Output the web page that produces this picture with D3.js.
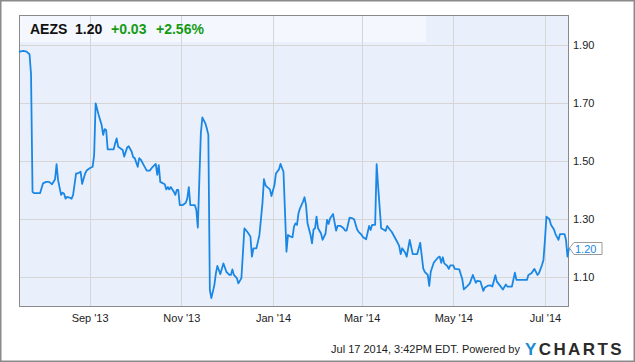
<!DOCTYPE html>
<html>
<head>
<meta charset="utf-8">
<script src="https://cdn.jsdelivr.net/npm/d3@7"></script>
<style>
    body { margin: 0; background: #fff; }
    svg { display: block; font-family: "Liberation Sans", Arial, sans-serif; }
</style>
</head>
<body>
<svg id="chart" width="635" height="362"></svg>
<script>
// AEZS daily close
var dates = [
    '2013-07-16','2013-07-17','2013-07-19','2013-07-21','2013-07-23','2013-07-24','2013-07-25','2013-07-26','2013-07-30',
    '2013-08-01','2013-08-03','2013-08-05','2013-08-07','2013-08-09','2013-08-10','2013-08-11','2013-08-13','2013-08-14',
    '2013-08-15','2013-08-16','2013-08-17','2013-08-19','2013-08-20','2013-08-21','2013-08-23','2013-08-24','2013-08-26',
    '2013-08-27','2013-08-29','2013-08-30',
    '2013-09-01','2013-09-03','2013-09-04','2013-09-05','2013-09-07','2013-09-09','2013-09-10','2013-09-11','2013-09-12',
    '2013-09-13','2013-09-17','2013-09-18','2013-09-19','2013-09-20','2013-09-23','2013-09-24','2013-09-26','2013-09-27',
    '2013-09-29','2013-09-30',
    '2013-10-01','2013-10-03','2013-10-04','2013-10-05','2013-10-07','2013-10-09','2013-10-11','2013-10-13','2013-10-15',
    '2013-10-16','2013-10-17','2013-10-18','2013-10-21','2013-10-22','2013-10-23','2013-10-24','2013-10-25','2013-10-27',
    '2013-10-28','2013-10-29','2013-10-30','2013-10-31',
    '2013-11-02','2013-11-04','2013-11-05','2013-11-06','2013-11-07','2013-11-10','2013-11-11','2013-11-12','2013-11-13',
    '2013-11-14','2013-11-15','2013-11-17','2013-11-18','2013-11-19','2013-11-20','2013-11-21','2013-11-23','2013-11-24',
    '2013-11-25','2013-11-27','2013-11-29',
    '2013-12-01','2013-12-03','2013-12-04','2013-12-05','2013-12-06','2013-12-08','2013-12-09','2013-12-11','2013-12-12',
    '2013-12-13','2013-12-15','2013-12-17','2013-12-18','2013-12-19','2013-12-21','2013-12-22','2013-12-23','2013-12-25',
    '2013-12-26','2013-12-27','2013-12-28','2013-12-30','2013-12-31',
    '2014-01-02','2014-01-03','2014-01-05','2014-01-06','2014-01-08','2014-01-10','2014-01-11','2014-01-12','2014-01-14',
    '2014-01-15','2014-01-16','2014-01-17','2014-01-18','2014-01-19','2014-01-21','2014-01-22','2014-01-23','2014-01-24',
    '2014-01-26','2014-01-27','2014-01-28','2014-01-29','2014-01-30','2014-01-31',
    '2014-02-02','2014-02-03','2014-02-05','2014-02-06','2014-02-07','2014-02-08','2014-02-10','2014-02-12','2014-02-13',
    '2014-02-15','2014-02-17','2014-02-18','2014-02-19','2014-02-21','2014-02-23','2014-02-24','2014-02-26','2014-02-27',
    '2014-03-01','2014-03-02','2014-03-04','2014-03-05','2014-03-06','2014-03-07','2014-03-08','2014-03-10','2014-03-11',
    '2014-03-12','2014-03-14','2014-03-16','2014-03-17','2014-03-18','2014-03-20','2014-03-21','2014-03-23','2014-03-25',
    '2014-03-26','2014-03-27','2014-03-28','2014-03-30','2014-03-31',
    '2014-04-02','2014-04-04','2014-04-07','2014-04-09','2014-04-11','2014-04-12','2014-04-14','2014-04-15','2014-04-16',
    '2014-04-18','2014-04-19','2014-04-21','2014-04-22','2014-04-23','2014-04-24','2014-04-25','2014-04-27','2014-04-28',
    '2014-04-29',
    '2014-05-01','2014-05-02','2014-05-05','2014-05-07','2014-05-08','2014-05-10','2014-05-12','2014-05-14','2014-05-16',
    '2014-05-17','2014-05-19','2014-05-21','2014-05-22','2014-05-24','2014-05-26','2014-05-27','2014-05-29','2014-05-30',
    '2014-06-01','2014-06-03','2014-06-05','2014-06-06','2014-06-09','2014-06-11','2014-06-12','2014-06-19','2014-06-20',
    '2014-06-22','2014-06-24','2014-06-26','2014-06-27','2014-06-29','2014-06-30',
    '2014-07-01','2014-07-02','2014-07-04','2014-07-05','2014-07-07','2014-07-08','2014-07-10','2014-07-11','2014-07-14',
    '2014-07-15','2014-07-16','2014-07-17'
];

var prices = [
    1.875,1.878,1.880,1.877,1.868,1.800,1.394,1.389,1.389,
    1.423,1.428,1.428,1.420,1.437,1.489,1.434,1.383,1.391,
    1.387,1.370,1.376,1.373,1.370,1.383,1.457,1.457,1.463,
    1.421,1.457,1.467,
    1.475,1.480,1.520,1.699,1.659,1.624,1.590,1.610,1.607,
    1.540,1.540,1.561,1.578,1.549,1.538,1.515,1.547,1.551,
    1.532,1.513,
    1.510,1.480,1.510,1.505,1.486,1.467,1.467,1.480,1.490,
    1.452,1.486,1.428,1.420,1.402,1.410,1.402,1.410,1.394,
    1.383,1.400,1.400,1.348,
    1.348,1.356,1.371,1.410,1.348,1.348,1.331,1.270,1.434,
    1.595,1.650,1.630,1.612,1.590,1.055,1.027,1.072,1.112,
    1.138,1.110,1.147,
    1.118,1.107,1.107,1.126,1.107,1.096,1.078,1.096,1.182,
    1.268,1.255,1.240,1.170,1.199,1.199,1.222,1.245,1.354,
    1.437,1.417,1.411,1.402,1.379,
    1.417,1.457,1.471,1.490,1.463,1.187,1.245,1.241,1.237,
    1.274,1.285,1.280,1.320,1.337,1.360,1.375,1.348,1.285,
    1.245,1.216,1.264,1.268,1.308,1.268,
    1.250,1.228,1.250,1.297,1.283,1.302,1.317,1.260,1.276,
    1.276,1.268,1.260,1.260,1.305,1.302,1.299,1.264,1.256,
    1.245,1.237,1.230,1.253,1.276,1.262,1.280,1.280,1.489,
    1.411,1.268,1.262,1.259,1.276,1.262,1.256,1.237,1.218,
    1.207,1.179,1.199,1.184,1.170,
    1.228,1.179,1.179,1.218,1.130,1.118,1.107,1.069,1.118,
    1.149,1.156,1.168,1.170,1.149,1.168,1.147,1.138,1.128,
    1.140,
    1.140,1.128,1.126,1.092,1.057,1.067,1.078,1.107,1.080,
    1.087,1.085,1.052,1.064,1.070,1.071,1.067,1.106,1.084,
    1.071,1.057,1.074,1.067,1.067,1.115,1.090,1.090,1.107,
    1.113,1.128,1.107,1.113,1.141,1.159,
    1.228,1.308,1.299,1.280,1.264,1.248,1.228,1.248,1.248,
    1.228,1.170,1.200
];

var monthTicks = ['2013-09-01','2013-11-01','2014-01-01','2014-03-01','2014-05-01','2014-07-01'];
var monthLabels = ["Sep '13","Nov '13","Jan '14","Mar '14","May '14","Jul '14"];
var priceTicks = [1.1, 1.3, 1.5, 1.7, 1.9];

var ticker = 'AEZS';
var lastPrice = '1.20';
var change = '+0.03';
var changePct = '+2.56%';
var stamp = 'Jul 17 2014, 3:42PM EDT. Powered by';

var parse = d3.timeParse('%Y-%m-%d');

var plot = { left: 19, top: 15, right: 569, bottom: 307 };

var x = d3.scaleTime()
    .domain([parse('2013-07-16'), parse('2014-07-17')])
    .range([plot.left, plot.right]);

var y = d3.scaleLinear()
    .domain([1.0, 2.0])
    .range([306, 16]);

var svg = d3.select('#chart');

// outer frame
svg.append('rect')
    .attr('x', 0.75).attr('y', 0.75)
    .attr('width', 633.5).attr('height', 360.5)
    .attr('fill', '#fff')
    .attr('stroke', '#8a8a8a')
    .attr('stroke-width', 1.5);

// plot background
svg.append('rect')
    .attr('x', plot.left).attr('y', plot.top)
    .attr('width', plot.right - plot.left)
    .attr('height', plot.bottom - plot.top)
    .attr('fill', '#eaf0fb');

// lighter strip behind the quote
svg.append('rect')
    .attr('x', plot.left).attr('y', plot.top)
    .attr('width', 407).attr('height', 27)
    .attr('fill', '#f4f7fd');

var grid = svg.append('g').attr('stroke', '#d6d6d6').attr('stroke-width', 1);

grid.selectAll('.vgrid')
    .data(monthTicks)
    .enter().append('line')
    .attr('class', 'vgrid')
    .attr('x1', function(d) { return Math.round(x(parse(d))) + 0.5; })
    .attr('x2', function(d) { return Math.round(x(parse(d))) + 0.5; })
    .attr('y1', plot.top)
    .attr('y2', plot.bottom);

grid.selectAll('.hgrid')
    .data(priceTicks)
    .enter().append('line')
    .attr('class', 'hgrid')
    .attr('x1', plot.left)
    .attr('x2', plot.right)
    .attr('y1', function(d) { return Math.round(y(d)) + 0.5; })
    .attr('y2', function(d) { return Math.round(y(d)) + 0.5; });

// plot border
svg.append('rect')
    .attr('x', plot.left + 0.5).attr('y', plot.top + 0.5)
    .attr('width', plot.right - plot.left - 1)
    .attr('height', plot.bottom - plot.top - 1)
    .attr('fill', 'none')
    .attr('stroke', '#8a8a8a');

// price line
var series = dates.map(function(d, i) {
    return { date: parse(d), value: prices[i] };
});

var line = d3.line()
    .x(function(d) { return x(d.date); })
    .y(function(d) { return y(d.value); });

svg.append('path')
    .datum(series)
    .attr('d', line)
    .attr('fill', 'none')
    .attr('stroke', '#1a87e5')
    .attr('stroke-width', 1.8)
    .attr('stroke-linejoin', 'round');

// axes
var xAxis = d3.axisBottom(x)
    .tickValues(monthTicks.map(parse))
    .tickFormat(function(d, i) { return monthLabels[i]; })
    .tickSize(0)
    .tickPadding(7);

var gx = svg.append('g')
    .attr('transform', 'translate(0,' + plot.bottom + ')')
    .call(xAxis);
gx.select('.domain').remove();
gx.selectAll('text')
    .attr('font-family', '"Liberation Sans", Arial, sans-serif')
    .attr('font-size', 11)
    .attr('fill', '#222');

var yAxis = d3.axisRight(y)
    .tickValues(priceTicks)
    .tickFormat(d3.format('.2f'))
    .tickSize(0)
    .tickPadding(4);

var gy = svg.append('g')
    .attr('transform', 'translate(' + plot.right + ',0)')
    .call(yAxis);
gy.select('.domain').remove();
gy.selectAll('text')
    .attr('font-family', '"Liberation Sans", Arial, sans-serif')
    .attr('font-size', 11)
    .attr('fill', '#222');

// last value callout
var last = series[series.length - 1];
var lx = x(last.date), ly = y(last.value);
svg.append('path')
    .attr('d', 'M' + (lx + 0.5) + ',' + ly +
        'L' + (lx + 5) + ',' + (ly - 5.5) +
        'L' + (lx + 33) + ',' + (ly - 5.5) +
        'L' + (lx + 33) + ',' + (ly + 6.5) +
        'L' + (lx + 5) + ',' + (ly + 6.5) + 'Z')
    .attr('fill', '#fff')
    .attr('stroke', '#9a9a9a');
svg.append('text')
    .attr('x', lx + 6)
    .attr('y', ly + 4.5)
    .attr('font-size', 11)
    .attr('fill', '#1a87e5')
    .text(d3.format('.2f')(last.value));

// quote header
var header = svg.append('g').attr('font-weight', 'bold').attr('font-size', 14);
header.append('text').attr('x', 30).attr('y', 33.5).attr('fill', '#111').text(ticker);
header.append('text').attr('x', 75).attr('y', 33.5).attr('fill', '#111').text(lastPrice);
header.append('text').attr('x', 111).attr('y', 33.5).attr('fill', '#169b16').text(change);
header.append('text').attr('x', 156).attr('y', 33.5).attr('fill', '#169b16').text(changePct);

// footer
svg.append('text')
    .attr('x', 520)
    .attr('y', 353)
    .attr('text-anchor', 'end')
    .attr('font-size', 11)
    .attr('fill', '#222')
    .text(stamp);

var logo = svg.append('text')
    .attr('x', 525)
    .attr('y', 354.5)
    .attr('font-size', 17)
    .attr('font-weight', 'bold')
    .attr('letter-spacing', 2.4);
logo.append('tspan').attr('fill', '#1c8ad0').text('Y');
logo.append('tspan').attr('fill', '#2a2a2a').text('CHARTS');
</script>
</body>
</html>
